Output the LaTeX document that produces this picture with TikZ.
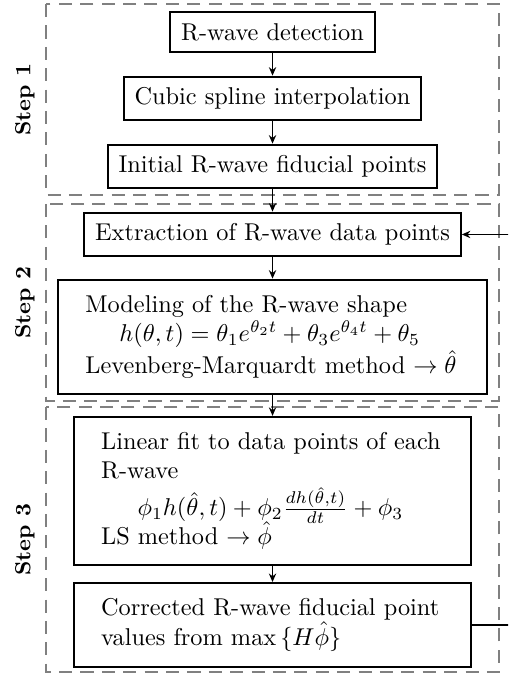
\documentclass[tikz,border=0pt]{standalone}
\usepackage{amsmath,amssymb}
\usetikzlibrary{arrows.meta}

\begin{document}
\begin{tikzpicture}[
    block/.style={draw, thick, inner sep=4.5pt},
    textblock/.style={draw, thick, align=left, inner xsep=11.3pt, inner ysep=6.5pt},
    frame/.style={draw=gray, semithick, dash pattern=on 5.4pt off 3.4pt},
    steplabel/.style={rotate=90, font=\small\bfseries},
    arr/.style={-{Stealth[length=3.5pt,width=3pt]}, semithick}
  ]
  % Fix the page size
  \clip (0,0) rectangle (7.345,-9.759);

  % Draw the dashed frames of the steps
  \draw[frame] (0.665,-0.058) rectangle (7.215,-2.819);
  \draw[frame] (0.665,-2.949) rectangle (7.215,-5.798);
  \draw[frame] (0.665,-5.884) rectangle (7.215,-9.716);

  % Step labels
  \node[steplabel] (s1) at (0.36,-1.439) {Step 1};
  \node[steplabel] (s2) at (0.36,-4.374) {Step 2};
  \node[steplabel] (s3) at (0.36,-7.800) {Step 3};

  % Draw the blocks
  \node[block] (b1) at (3.94,-0.463) {R-wave detection};
  \node[block] (b2) at (3.94,-1.424) {Cubic spline interpolation};
  \node[block] (b3) at (3.94,-2.407) {Initial R-wave fiducial points};
  \node[block] (b4) at (3.94,-3.390) {Extraction of R-wave data points};
  \node[textblock, text width=154pt] (b5) at (3.94,-4.872) {Modeling of the R-wave shape\\
    \hspace*{14pt}$h(\theta,t)=\theta_1e^{\theta_2t}+\theta_3e^{\theta_4t}+\theta_5$\\
    Levenberg-Marquardt method $\rightarrow\hat{\theta}$};
  \node[textblock, text width=141pt] (b6) at (3.94,-7.099) {Linear fit to data points of each\\
    R-wave\\[3pt]
    \hspace*{15pt}$\phi_1h(\hat{\theta},t)+\phi_2\frac{dh(\hat{\theta},t)}{dt}+\phi_3$\\[-2pt]
    LS method $\rightarrow\hat{\phi}$};
  \node[textblock, text width=141pt] (b7) at (3.94,-9.036) {Corrected R-wave fiducial point\\
    values from $\max\,\{H\hat{\phi}\}$};

  % Draw the arrows
  \draw[arr] (b1) -- (b2);
  \draw[arr] (b2) -- (b3);
  \draw[arr] (b3) -- (b4);
  \draw[arr] (b4) -- (b5);
  \draw[arr] (b5) -- (b6);
  \draw[arr] (b6) -- (b7);

  % Feedback from the last block
  \coordinate (fb) at (7.6,-6);
  \draw[arr] (b7.east) -| (fb) |- (b4.east);
\end{tikzpicture}
\end{document}
